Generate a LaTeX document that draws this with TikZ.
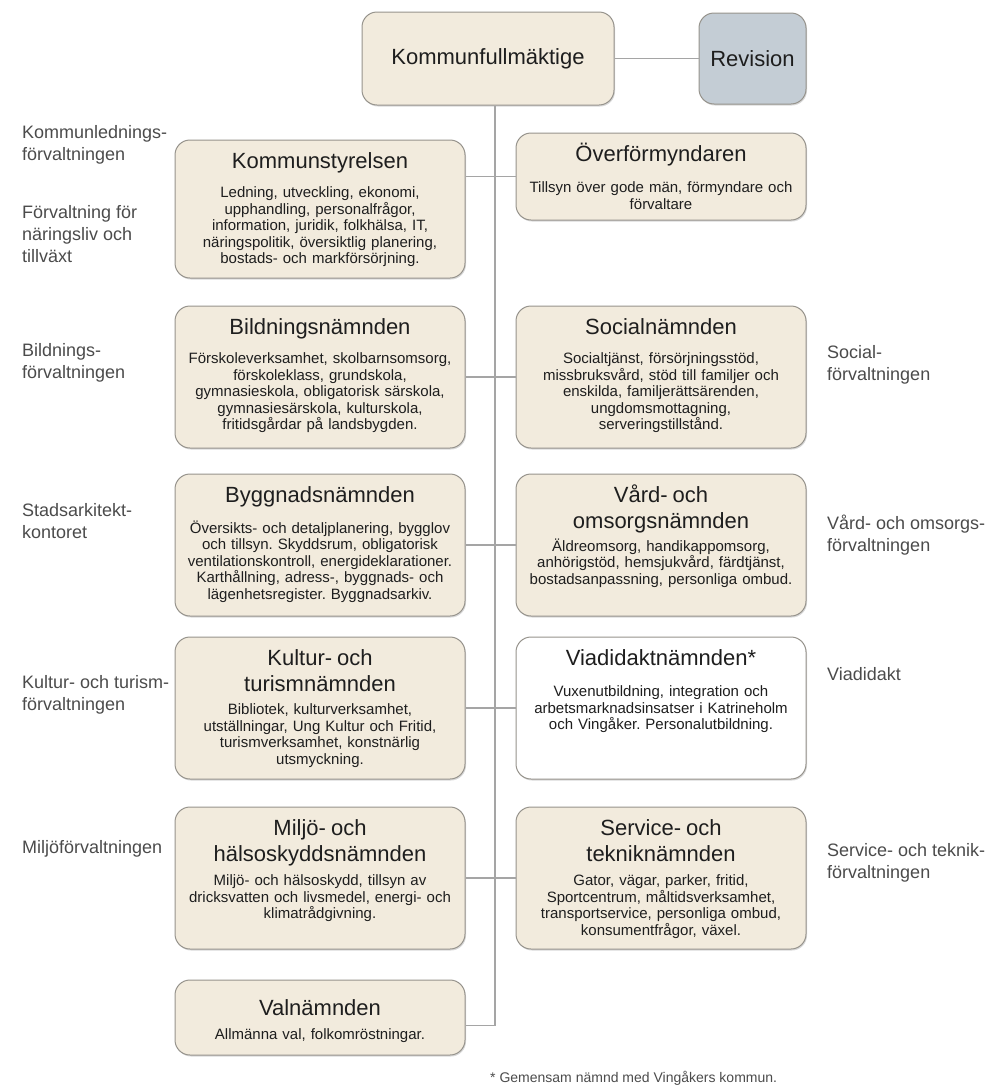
\documentclass[tikz,border=0pt]{standalone}
\usepackage{fontspec}
\setmainfont{Liberation Sans}
\usepackage{tikz}
\usetikzlibrary{positioning,shadows}
\frenchspacing

\definecolor{beige}{RGB}{242,235,221}
\definecolor{frame}{RGB}{150,147,140}
\definecolor{slate}{RGB}{196,205,213}
\definecolor{wire}{RGB}{165,165,165}
\definecolor{ink}{RGB}{30,30,30}
\definecolor{sidegray}{RGB}{75,75,75}

\newcommand{\titel}[2][13pt]{{\fontsize{22}{26}\selectfont #2\par}\vspace{#1}}

\begin{document}
\begin{tikzpicture}
[x=1pt, y=-1pt,
 board/.style={rectangle, rounded corners=15pt, draw=frame, line width=1pt, fill=beige, text=ink,
   drop shadow={shadow xshift=1pt, shadow yshift=-1.5pt, opacity=.3}},
 headbox/.style={board, minimum width=252pt, minimum height=93pt, font=\fontsize{22}{26}\selectfont},
 unit/.style={board, inner sep=4pt, text width=282pt, align=center, text height=24pt, text depth=#1,
   font=\fontsize{15}{16.5}\selectfont},
 unit/.default=110pt,
 sidetext/.style={anchor=north west, inner sep=0pt, align=left, text=sidegray, font=\fontsize{18}{22}\selectfont},
 tie/.style={draw=wire, line width=1.3pt}]
    \useasboundingbox (0,0) rectangle (992,1090);
    \node[headbox](kf) at (488,58.5) {Kommunfullmäktige};
    \node[headbox, fill=slate, minimum width=107pt, minimum height=91pt](rev) [right=84pt of kf] {Revision}
        edge[tie] (kf);
    % vänster kolumn
    \node[unit=106pt](ks) at (320,209) {\titel{Kommunstyrelsen}
        Ledning, utveckling, ekonomi,\\ upphandling, personalfrågor,\\ information, juridik, folkhälsa, IT,\\
        näringspolitik, översiktlig planering,\\ bostads- och markförsörjning.};
    \node[unit](bn) [below=27pt of ks] {\titel{Bildningsnämnden}
        Förskoleverksamhet, skolbarnsomsorg,\\ förskoleklass, grundskola,\\ gymnasieskola, obligatorisk särskola,\\
        gymnasiesärskola, kulturskola,\\ fritidsgårdar på landsbygden.};
    \node[unit](bg) [below=25pt of bn] {\titel{Byggnadsnämnden}
        Översikts- och detaljplanering, bygglov\\ och tillsyn. Skyddsrum, obligatorisk\\ ventilationskontroll, energideklarationer.\\
        Karthållning, adress-, byggnads- och\\ lägenhetsregister. Byggnadsarkiv.};
    \node[unit](ku) [below=20pt of bg] {\titel[7pt]{Kultur- och\\turismnämnden}
        Bibliotek, kulturverksamhet,\\ utställningar, Ung Kultur och Fritid,\\ turismverksamhet, konstnärlig\\ utsmyckning.};
    \node[unit](mi) [below=27pt of ku] {\titel[8pt]{Miljö- och\\hälsoskyddsnämnden}
        Miljö- och hälsoskydd, tillsyn av\\ dricksvatten och livsmedel, energi- och\\ klimatrådgivning.};
    \node[unit=36pt, text height=31pt](val) [below=30pt of mi] {\titel[8pt]{Valnämnden}
        Allmänna val, folkomröstningar.};
    % höger kolumn
    \node[unit](sn) [right=50pt of bn] {\titel{Socialnämnden}
        Socialtjänst, försörjningsstöd,\\ missbruksvård, stöd till familjer och\\ enskilda, familjerättsärenden,\\
        ungdomsmottagning,\\ serveringstillstånd.}
        edge[tie] (bn);
    \node[unit=55pt](ovf) [above=85pt of sn] {\titel[15pt]{Överförmyndaren}
        Tillsyn över gode män, förmyndare och\\ förvaltare}
        edge[tie] (ovf.west -| ks.east);
    \node[unit](vo) [right=50pt of bg] {\titel[5pt]{Vård- och\\omsorgsnämnden}
        Äldreomsorg, handikappomsorg,\\ anhörigstöd, hemsjukvård, färdtjänst,\\ bostadsanpassning, personliga ombud.}
        edge[tie] (bg);
    \node[unit, fill=white](vd) [right=50pt of ku] {\titel[15pt]{Viadidaktnämnden*}
        Vuxenutbildning, integration och\\ arbetsmarknadsinsatser i Katrineholm\\ och Vingåker. Personalutbildning.}
        edge[tie] (ku);
    \node[unit](st) [right=50pt of mi] {\titel[8pt]{Service- och\\tekniknämnden}
        Gator, vägar, parker, fritid,\\ Sportcentrum, måltidsverksamhet,\\ transportservice, personliga ombud,\\ konsumentfrågor, växel.}
        edge[tie] (mi);
    \coordinate (spine) at ([xshift=7pt]kf.south);
    \draw[tie] (spine) |- ([yshift=-8pt]val.east);
    % förvaltningar
    \node[sidetext](lks) at (22,125) {Kommunlednings-\\förvaltningen};
    \node[sidetext](lnt) at (22,205) {Förvaltning för\\näringsliv och\\tillväxt};
    \node[sidetext](lbn) at (22,343) {Bildnings-\\förvaltningen};
    \node[sidetext](lbg) at (22,503) {Stadsarkitekt-\\kontoret};
    \node[sidetext](lku) at (22,675) {Kultur- och turism-\\förvaltningen};
    \node[sidetext](lmi) at (22,840) {Miljöförvaltningen};
    \node[sidetext](lsn) at (827,345) {Social-\\förvaltningen};
    \node[sidetext](lvo) at (827,515) {Vård- och omsorgs-\\förvaltningen};
    \node[sidetext](lvd) at (827,667) {Viadidakt};
    \node[sidetext](lst) at (827,843) {Service- och teknik-\\förvaltningen};
    \node[anchor=base west, inner sep=0pt, text=sidegray, font=\fontsize{14}{16}\selectfont](fn) at (490,1082)
        {* Gemensam nämnd med Vingåkers kommun.};
\end{tikzpicture}
\end{document}
